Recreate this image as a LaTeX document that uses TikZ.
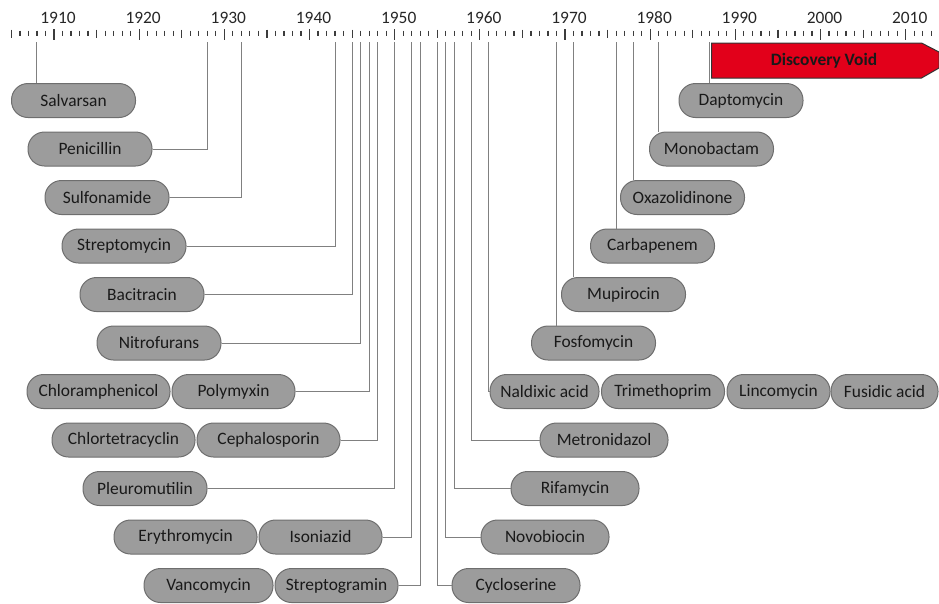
\documentclass[tikz,border=0pt]{standalone}
\usepackage{fontspec}
\setmainfont{Carlito}
\definecolor{boxfill}{RGB}{156,156,156}
\definecolor{boxline}{RGB}{110,110,110}
\definecolor{linkgray}{RGB}{128,128,128}
\definecolor{tickgray}{RGB}{60,60,60}
\definecolor{voidred}{RGB}{226,0,26}
\newcommand{\yearx}[1]{54+8.517*(#1-1910)}
\tikzset{
  drug/.style={draw=boxline, line width=1pt, fill=boxfill, rounded corners=16.5pt,
    minimum width=124pt, minimum height=34pt, inner sep=0pt, text=black!90,
    font=\fontsize{17.4}{19}\selectfont},
  link/.style={draw=linkgray, line width=1pt},
  tick/.style={draw=tickgray, line width=1.2pt},
  yearlabel/.style={text=black!85, font=\fontsize{17.4}{19}\selectfont}
}
\begin{document}
\begin{tikzpicture}[x=1pt,y=-1pt]
\useasboundingbox (0,0) rectangle (939,603);

\foreach \yr in {1905,...,2013}
  \draw[tick] ({\yearx{\yr}},30.5) -- ({\yearx{\yr}},35.5);
\foreach \yr in {1905,1910,...,2010}
  \draw[tick] ({\yearx{\yr}},29.5) -- ({\yearx{\yr}},37.5);
\foreach \yr in {1910,1920,...,2010}{
  \draw[tick] ({\yearx{\yr}},29) -- ({\yearx{\yr}},39.5);
  \node[yearlabel] (lab\yr) at ({\yearx{\yr}+4},18) {\yr};
}

\foreach \yr in {1908,1928,1932,1943,1945,1946,1947,1948,1950,1952,1953,1955,1956,1957,1959,1961,1969,1971,1976,1978,1981,1987}
  \coordinate (t\yr) at ({\yearx{\yr}},42);

\node[drug] (sal) at (73.5,100.5) {Salvarsan};
\node[drug] (pen) at (90,149) {Penicillin};
\node[drug] (sul) at (107,197.5) {Sulfonamide};
\node[drug] (stm) at (124,246) {Streptomycin};
\node[drug] (bac) at (142,294.5) {Bacitracin};
\node[drug] (nit) at (159,343) {Nitrofurans};
\node[drug, minimum width=143pt] (chl) at (98.5,391.5) {Chloramphenicol};
\node[drug, minimum width=123pt] (pol) at (233.5,391.5) {Polymyxin};
\node[drug, minimum width=143pt] (clt) at (123.5,440) {Chlortetracyclin};
\node[drug, minimum width=143pt] (cep) at (268.5,440) {Cephalosporin};
\node[drug] (ple) at (145,488.5) {Pleuromutilin};
\node[drug, minimum width=143pt] (ery) at (185.5,537) {Erythromycin};
\node[drug, minimum width=123pt] (iso) at (320.5,537) {Isoniazid};
\node[drug, minimum width=129pt] (van) at (208.5,585.5) {Vancomycin};
\node[drug, minimum width=123pt] (stg) at (336.5,585.5) {Streptogramin};

\node[drug] (dap) at (741,100.5) {Daptomycin};
\node[drug] (mon) at (711.5,149) {Monobactam};
\node[drug] (oxa) at (682.5,197.5) {Oxazolidinone};
\node[drug] (car) at (652.5,246) {Carbapenem};
\node[drug] (mup) at (623.5,294.5) {Mupirocin};
\node[drug] (fos) at (593.5,343) {Fosfomycin};
\node[drug, minimum width=109pt] (nal) at (544.5,391.5) {Naldixic acid};
\node[drug, minimum width=123pt] (tri) at (663,391.5) {Trimethoprim};
\node[drug, minimum width=103pt] (lin) at (778.5,391.5) {Lincomycin};
\node[drug, minimum width=107pt] (fus) at (884.5,391.5) {Fusidic acid};
\node[drug, minimum width=128pt] (met) at (604,440) {Metronidazol};
\node[drug, minimum width=128pt] (rif) at (575,488.5) {Rifamycin};
\node[drug, minimum width=128pt] (nov) at (545,537) {Novobiocin};
\node[drug, minimum width=128pt] (cyc) at (516,585.5) {Cycloserine};

\draw[link] (t1908) -- (t1908 |- sal.north);
\draw[link] (pen.east) -| (t1928);
\draw[link] (sul.east) -| (t1932);
\draw[link] (stm.east) -| (t1943);
\draw[link] (bac.east) -| (t1945);
\draw[link] (nit.east) -| (t1946);
\draw[link] (pol.east) -| (t1947);
\draw[link] (cep.east) -| (t1948);
\draw[link] (ple.east) -| (t1950);
\draw[link] (iso.east) -| (t1952);
\draw[link] (stg.east) -| (t1953);
\draw[link] (t1955) |- (cyc.west);
\draw[link] (t1956) |- (nov.west);
\draw[link] (t1957) |- (rif.west);
\draw[link] (t1959) |- (met.west);
\draw[link] (t1961) |- (nal.west);
\draw[link] (t1969) -- (t1969 |- fos.north);
\draw[link] (t1971) -- (t1971 |- mup.north);
\draw[link] (t1976) -- (t1976 |- car.north);
\draw[link] (t1978) -- (t1978 |- oxa.north);
\draw[link] (t1981) -- (t1981 |- mon.north);
\draw[link] (t1987) -- (t1987 |- dap.north);

\draw[draw=black!80, line width=1pt, fill=voidred] (711.5,43) -- (921.5,43) -- (939,52) -- (939,68) -- (921.5,78) -- (711.5,78) -- cycle;
\node[font=\fontsize{17.4}{19}\selectfont\bfseries, text=black!90] (void) at (824,60.5) {Discovery Void};
\end{tikzpicture}
\end{document}
